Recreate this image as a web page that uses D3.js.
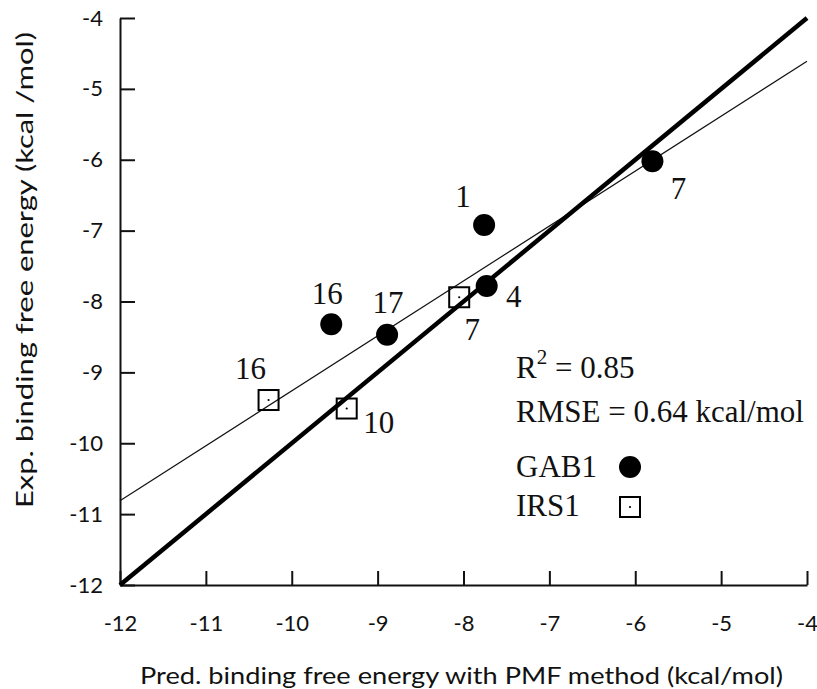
<!DOCTYPE html>
<html>
<head>
<meta charset="utf-8">
<script src="https://cdn.jsdelivr.net/npm/d3@7"></script>
<style>
  body { margin: 0; background: #fff; }
  .axis path, .axis line { stroke: #111; stroke-width: 2px; }
  .axis text { font-family: Lato, 'Open Sans', sans-serif; font-size: 22px; fill: #111; }
  .title { font-family: Lato, 'Open Sans', sans-serif; font-size: 24px; fill: #111; }
  .note { font-family: 'Liberation Serif', 'Times New Roman', serif; font-size: 31px; fill: #111; }
</style>
</head>
<body>
<svg id="chart"></svg>
<script>
const w = 817, h = 689;
const margins = {top: 18, right: 10, bottom: 104, left: 120};

// GAB1 complexes
const gabIds = ['1', '4', '7', '16', '17'];
const gabPred = [-7.76, -7.73, -5.80, -9.54, -8.89];
const gabExp = [-6.92, -7.78, -6.02, -8.32, -8.47];

// IRS1 complexes
const irsIds = ['7', '10', '16'];
const irsPred = [-8.05, -9.36, -10.27];
const irsExp = [-7.94, -9.51, -9.39];

// diagonal y = x and the fitted line (ends)
const diagX = [-12, -4];
const diagY = [-12, -4];
const fitX = [-12, -4];
const fitY = [-10.81, -4.61];

const ticks = [-12, -11, -10, -9, -8, -7, -6, -5, -4];
const statsText = ['= 0.85', 'RMSE = 0.64 kcal/mol'];
const legendNames = ['GAB1', 'IRS1'];

// where the number labels sit relative to each point (px)
const gabLabelOffsets = [[-21, -18], [27, 21], [26, 38], [-4, -20], [1, -22]];
const irsLabelOffsets = [[13, 43], [32, 24], [-18, -21]];

let chart, xScale, yScale;

function setupChart() {
  chart = d3.select('#chart')
    .attr('width', w)
    .attr('height', h);

  xScale = d3.scaleLinear()
    .domain([-12, -4])
    .range([margins.left, w - margins.right]);

  yScale = d3.scaleLinear()
    .domain([-12, -4])
    .range([h - margins.bottom, margins.top]);

  // X AXIS
  const xAxisGroup = chart.append('g')
    .attr('class', 'axis')
    .attr('transform', `translate(0, ${h - margins.bottom})`)
    .call(d3.axisBottom(xScale).tickValues(ticks)
      .tickSize(-14).tickSizeOuter(0).tickPadding(30));
  xAxisGroup.selectAll('text').text(d => String(d));

  // Y AXIS
  const yAxisGroup = chart.append('g')
    .attr('class', 'axis')
    .attr('transform', `translate(${margins.left}, 0)`)
    .call(d3.axisLeft(yScale).tickValues(ticks)
      .tickSize(-15).tickSizeOuter(0).tickPadding(17));
  yAxisGroup.selectAll('text').text(d => String(d));

  // X AXIS LABEL
  chart.append('text')
    .attr('class', 'title')
    .attr('x', 461.5)
    .attr('y', 684)
    .attr('text-anchor', 'middle')
    .attr('textLength', 643)
    .attr('lengthAdjust', 'spacingAndGlyphs')
    .text('Pred. binding free energy with PMF method (kcal/mol)');

  // Y AXIS LABEL
  chart.append('text')
    .attr('class', 'title')
    .attr('transform', `translate(33, 270) rotate(-90)`)
    .attr('text-anchor', 'middle')
    .attr('textLength', 476)
    .attr('lengthAdjust', 'spacingAndGlyphs')
    .text('Exp. binding free energy (kcal /mol)');
}

function makeChart() {
  const line = d3.line()
    .x(d => xScale(d[0]))
    .y(d => yScale(d[1]));

  // thin fitted line
  chart.append('path')
    .datum(d3.zip(fitX, fitY))
    .attr('d', line)
    .style('fill', 'none')
    .style('stroke', '#111')
    .style('stroke-width', 1.2);

  // thick y = x line
  chart.append('path')
    .datum(d3.zip(diagX, diagY))
    .attr('d', line)
    .style('fill', 'none')
    .style('stroke', '#000')
    .style('stroke-width', 4.5);

  const gab = gabIds.map((id, i) => ({id: id, x: gabPred[i], y: gabExp[i], off: gabLabelOffsets[i]}));
  const irs = irsIds.map((id, i) => ({id: id, x: irsPred[i], y: irsExp[i], off: irsLabelOffsets[i]}));

  // GAB1 dots
  chart.selectAll('circle.gab')
    .data(gab)
    .join('circle')
    .attr('class', 'gab')
    .attr('cx', d => xScale(d.x))
    .attr('cy', d => yScale(d.y))
    .attr('r', 11)
    .style('fill', '#000');

  // IRS1 squares with a dot in the middle
  const sq = chart.selectAll('g.irs')
    .data(irs)
    .join('g')
    .attr('class', 'irs')
    .attr('transform', d => `translate(${xScale(d.x)}, ${yScale(d.y)})`);
  sq.append('rect')
    .attr('x', -10).attr('y', -10)
    .attr('width', 20).attr('height', 20)
    .style('fill', 'none')
    .style('stroke', '#000')
    .style('stroke-width', 2);
  sq.append('circle')
    .attr('r', 1.1)
    .style('fill', '#000');

  // number labels
  chart.selectAll('text.num')
    .data(gab.concat(irs))
    .join('text')
    .attr('class', 'note num')
    .attr('x', d => xScale(d.x) + d.off[0])
    .attr('y', d => yScale(d.y) + d.off[1])
    .attr('text-anchor', 'middle')
    .text(d => d.id);

  // stats
  const r2 = chart.append('text')
    .attr('class', 'note')
    .attr('x', 516)
    .attr('y', 378);
  r2.append('tspan').text('R');
  r2.append('tspan').attr('dy', -14).style('font-size', '21px').text('2');
  r2.append('tspan').attr('dy', 14).text(' ' + statsText[0]);

  chart.append('text')
    .attr('class', 'note')
    .attr('x', 516)
    .attr('y', 422)
    .text(statsText[1]);

  // legend
  chart.selectAll('text.leg')
    .data(legendNames)
    .join('text')
    .attr('class', 'note leg')
    .attr('x', 516)
    .attr('y', (d, i) => 477 + i * 39)
    .text(d => d);

  chart.append('circle')
    .attr('cx', 630).attr('cy', 467)
    .attr('r', 11)
    .style('fill', '#000');

  chart.append('rect')
    .attr('x', 620).attr('y', 497)
    .attr('width', 20).attr('height', 20)
    .style('fill', 'none')
    .style('stroke', '#000')
    .style('stroke-width', 2);
  chart.append('circle')
    .attr('cx', 630).attr('cy', 507)
    .attr('r', 1.1)
    .style('fill', '#000');
}

setupChart();
makeChart();
</script>
</body>
</html>
